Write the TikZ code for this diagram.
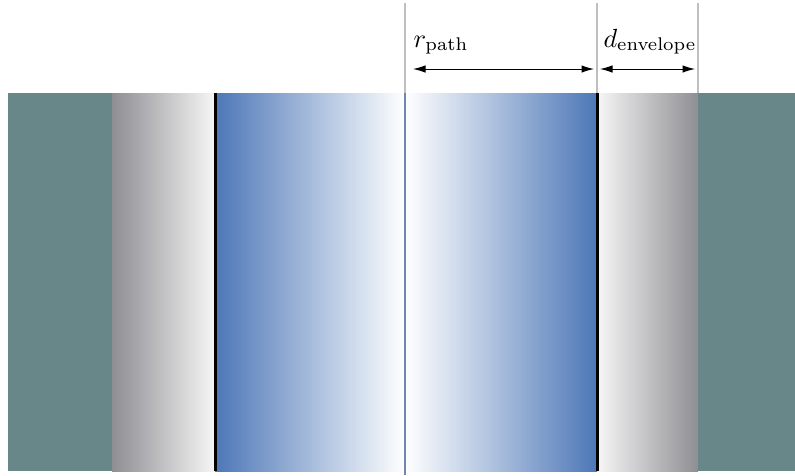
\documentclass[tikz,border=0pt]{standalone}
\usetikzlibrary{arrows.meta}
\definecolor{tealc}{HTML}{678789}
\definecolor{bluec}{HTML}{4D77B7}
\definecolor{grayd}{HTML}{8E8E93}
\definecolor{grayl}{HTML}{F6F6F6}
\definecolor{centc}{HTML}{7088AE}
\tikzset{
  guide/.style={draw=black!25, line width=0.5pt},
  dimarrow/.style={{Latex[length=5pt,width=3pt]}-{Latex[length=5pt,width=3pt]}, line width=0.4pt},
  wall/.style={draw=black, line width=1.2pt},
  lbl/.style={anchor=base west, inner sep=0pt, scale=1.05},
}
\begin{document}
\begin{tikzpicture}[x=0.4pt,y=-0.4pt]
\useasboundingbox (0,0) rectangle (795,475);
% teal outer
\fill[tealc] (8,93) rectangle (112,471);
\fill[tealc] (698,93) rectangle (795,471);
% gray envelopes
\shade[left color=grayd, right color=grayl] (112,93) rectangle (215,471);
\shade[left color=grayl, right color=grayd] (597,93) rectangle (698,471);
% blue path
\shade[left color=bluec, right color=white] (215,93) rectangle (405,471);
\shade[left color=white, right color=bluec] (405,93) rectangle (597,471);
% walls
\draw[wall] (215,93) -- (215,471);
\draw[wall] (597,93) -- (597,471);
% center line
\draw[centc, line width=0.6pt] (405,93) -- (405,475);
% guides
\coordinate (g1t) at (405,3); \coordinate (g1b) at (405,93);
\coordinate (g2t) at (597,3); \coordinate (g2b) at (597,93);
\coordinate (g3t) at (698,3); \coordinate (g3b) at (698,93);
\draw[guide] (g1t) -- (g1b);
\draw[guide] (g2t) -- (g2b);
\draw[guide] (g3t) -- (g3b);
% dimension arrows
\coordinate (a1) at (413,69); \coordinate (a2) at (594,69);
\coordinate (b1) at (600,69); \coordinate (b2) at (695,69);
\draw[dimarrow] (a1) -- (a2);
\draw[dimarrow] (b1) -- (b2);
\node[lbl] (lr) at (413,47) {$r_{\mathrm{path}}$};
\node[lbl] (ld) at (603,47) {$d_{\mathrm{envelope}}$};
\end{tikzpicture}
\end{document}
